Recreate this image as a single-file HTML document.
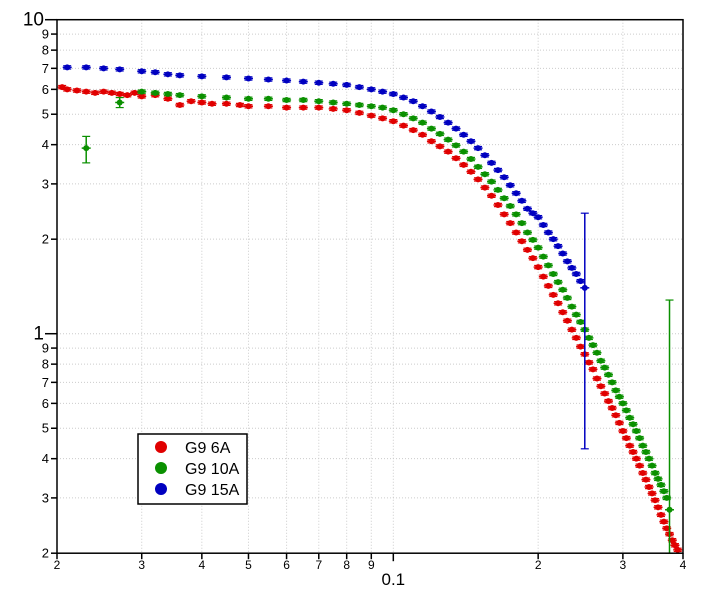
<!DOCTYPE html>
<html><head><meta charset="utf-8"><style>
html,body{margin:0;padding:0;background:#fff;}
svg{display:block;font-family:"Liberation Sans",sans-serif;}
</style></head><body>
<svg id="chart" width="728" height="599">
<g id="grid"></g>
<g id="series"></g>
<g id="axes"></g>
<g>
<rect x="138" y="434" width="109" height="70" fill="#fff" stroke="#000" stroke-width="1.5"/>
<g><circle cx="161" cy="447" r="6" fill="#e00000"/><text x="185" y="453" font-size="16">G9 6A</text></g>
<g><circle cx="161" cy="468" r="6" fill="#0a9000"/><text x="185" y="474" font-size="16">G9 10A</text></g>
<g><circle cx="161" cy="489" r="6" fill="#0000c0"/><text x="185" y="495" font-size="16">G9 15A</text></g>
</g>
</svg>
<script>
const redQ=[0.0205,0.021,0.022,0.023,0.024,0.025,0.026,0.027,0.028,0.029,0.030,0.032,0.034,0.036,0.038,0.040,0.042,0.045,0.048,0.05,0.055,0.06,0.065,0.07,0.075,0.08,0.085,0.09,0.095,
0.1,0.105,0.11,0.115,0.12,0.125,0.13,0.135,0.14,0.145,0.15,0.155,0.16,0.165,0.17,0.175,0.18,0.185,0.19,0.195,0.2,0.205,0.21,0.215,0.22,0.225,0.23,0.235,0.24,0.245,0.25,0.255,0.26,0.265,0.27,0.275,0.28,0.285,0.29,0.295,0.3,0.305,0.31,0.315,0.32,0.325,0.33,0.335,0.34,0.345,0.35,0.355,0.36,0.365,0.37,0.375,0.38,0.385,0.39];
const redI=[6.1,6.0,5.95,5.9,5.85,5.9,5.85,5.8,5.75,5.85,5.7,5.75,5.6,5.35,5.5,5.45,5.4,5.4,5.35,5.3,5.3,5.25,5.25,5.25,5.2,5.15,5.05,4.95,4.85,
4.75,4.6,4.45,4.3,4.1,3.95,3.8,3.62,3.45,3.28,3.1,2.92,2.75,2.57,2.4,2.25,2.1,1.97,1.85,1.74,1.63,1.52,1.42,1.33,1.25,1.17,1.1,1.03,0.97,0.91,0.86,0.81,0.77,0.72,0.68,0.645,0.61,0.58,0.55,0.52,0.49,0.465,0.44,0.42,0.40,0.38,0.36,0.343,0.325,0.31,0.295,0.28,0.265,0.252,0.24,0.23,0.22,0.212,0.205];
const greenQ=[0.023,0.027,0.03,0.032,0.034,0.036,0.04,0.045,0.05,0.055,0.06,0.065,0.07,0.075,0.08,0.085,0.09,0.095,
0.1,0.105,0.11,0.115,0.12,0.125,0.13,0.135,0.14,0.145,0.15,0.155,0.16,0.165,0.17,0.175,0.18,0.185,0.19,0.195,0.2,0.205,0.21,0.215,0.22,0.225,0.23,0.235,0.24,0.245,0.25,0.255,0.26,0.265,0.27,0.275,0.28,0.285,0.29,0.295,0.3,0.305,0.31,0.315,0.32,0.325,0.33,0.335,0.34,0.345,0.35,0.355,0.36,0.365,0.37,0.375];
const greenI=[3.9,5.45,5.9,5.85,5.8,5.75,5.7,5.65,5.6,5.6,5.55,5.55,5.5,5.45,5.4,5.35,5.3,5.25,
5.15,5.0,4.85,4.7,4.5,4.33,4.15,3.98,3.8,3.6,3.4,3.22,3.05,2.87,2.7,2.55,2.4,2.25,2.1,1.99,1.88,1.76,1.65,1.55,1.46,1.38,1.3,1.22,1.15,1.09,1.03,0.97,0.92,0.87,0.82,0.78,0.74,0.70,0.66,0.63,0.6,0.57,0.54,0.515,0.49,0.465,0.44,0.42,0.40,0.38,0.36,0.345,0.33,0.315,0.30,0.275];
const greenBigErrQ=[0.023,0.027,0.375];
const greenBigErrLo=[3.5,5.25,0.2];
const greenBigErrHi=[4.25,5.65,1.28];
const blueQ=[0.021,0.023,0.025,0.027,0.03,0.032,0.034,0.036,0.04,0.045,0.05,0.055,0.06,0.065,0.07,0.075,0.08,0.085,0.09,0.095,
0.1,0.105,0.11,0.115,0.12,0.125,0.13,0.135,0.14,0.145,0.15,0.155,0.16,0.165,0.17,0.175,0.18,0.185,0.19,0.195,0.2,0.205,0.21,0.215,0.22,0.225,0.23,0.235,0.24,0.245,0.25];
const blueI=[7.05,7.05,7.0,6.95,6.85,6.8,6.7,6.65,6.6,6.55,6.5,6.45,6.4,6.35,6.3,6.25,6.2,6.1,6.0,5.9,
5.8,5.65,5.5,5.3,5.1,4.9,4.7,4.5,4.3,4.1,3.9,3.7,3.5,3.32,3.15,2.97,2.8,2.65,2.5,2.42,2.35,2.22,2.1,2.0,1.9,1.8,1.7,1.62,1.55,1.47,1.4];
const blueBigErrQ=[0.25];
const blueBigErrLo=[0.43];
const blueBigErrHi=[2.42];
const xTicks=[0.02,0.03,0.04,0.05,0.06,0.07,0.08,0.09,0.1,0.2,0.3,0.4];
const xTickLabels=["2","3","4","5","6","7","8","9","0.1","2","3","4"];
const yTicks=[0.2,0.3,0.4,0.5,0.6,0.7,0.8,0.9,1,2,3,4,5,6,7,8,9,10];
const yTickLabels=["2","3","4","5","6","7","8","9","1","2","3","4","5","6","7","8","9","10"];

const L=57,R=683,T=19.7,B=553.2;
const xMin=0.02,xMax=0.4,yMin=0.2,yMax=10;
function xs(q){return L+Math.log10(q/xMin)/Math.log10(xMax/xMin)*(R-L);}
function ys(v){return B-Math.log10(v/yMin)/Math.log10(yMax/yMin)*(B-T);}
const NS="http://www.w3.org/2000/svg";
function mk(tag,attrs,parent){const e=document.createElementNS(NS,tag);for(const k in attrs)e.setAttribute(k,attrs[k]);parent.appendChild(e);return e;}
const grid=document.getElementById('grid'),axes=document.getElementById('axes'),series=document.getElementById('series');

xTicks.forEach((t,i)=>{
  const x=xs(t);
  const g=mk('line',{x1:x,x2:x,y1:T,y2:B,stroke:'#ccc','stroke-dasharray':'1,2','stroke-width':1},grid);
  
  
  const major=(t===0.1);
  const tk=mk('line',{x1:x,x2:x,y1:B,y2:B+(major?8:6),stroke:'#000','stroke-width':1.5},axes);
  
  
  const lb=mk('text',{x:x,y:major?585:569,'font-size':major?17:12,'text-anchor':'middle'},axes);
  lb.textContent=xTickLabels[i];
  
  
});
yTicks.forEach((t,i)=>{
  const y=ys(t);
  const g=mk('line',{x1:L,x2:R,y1:y,y2:y,stroke:'#ccc','stroke-dasharray':'1,2','stroke-width':1},grid);
  
  
  const major=(t===1||t===10);
  const tk=mk('line',{x1:L-(major?12:6),x2:L,y1:y,y2:y,stroke:'#000','stroke-width':1.5},axes);
  
  
  const lb=mk('text',{x:major?L-13:L-8,y:y+(major?6:4.5),'font-size':major?19:13,'text-anchor':'end'},axes);
  lb.textContent=yTickLabels[i];
  
  
});
const frame=mk('rect',{x:L,y:T,width:R-L,height:B-T,fill:'none',stroke:'#000','stroke-width':1.5},axes);



function draw(Q,I,bq,blo,bhi,color,name){
  const g=mk('g',{},series);
  
  
  Q.forEach((q,i)=>{
    const x=xs(q),y=ys(I[i]);
    const k=bq.indexOf(q);
    const l=k>=0?blo[k]:I[i]*0.988,h=k>=0?bhi[k]:I[i]*1.012;
    const ylo=ys(l),yhi=ys(h);
    mk('line',{x1:x-4.5,x2:x+4.5,y1:y,y2:y,stroke:color,'stroke-width':1.5},g);
    mk('line',{x1:x,x2:x,y1:ylo,y2:yhi,stroke:color,'stroke-width':1.5},g);
    mk('line',{x1:x-4,x2:x+4,y1:ylo,y2:ylo,stroke:color,'stroke-width':1.2},g);
    mk('line',{x1:x-4,x2:x+4,y1:yhi,y2:yhi,stroke:color,'stroke-width':1.2},g);
    const c=mk('circle',{cx:x,cy:y,r:3,fill:color},g);
    
    
  });
}
draw(redQ,redI,[],[],[],'#e00000','series-g9-6a');
draw(greenQ,greenI,greenBigErrQ,greenBigErrLo,greenBigErrHi,'#0a9000','series-g9-10a');
draw(blueQ,blueI,blueBigErrQ,blueBigErrLo,blueBigErrHi,'#0000c0','series-g9-15a');
</script>
</body></html>
